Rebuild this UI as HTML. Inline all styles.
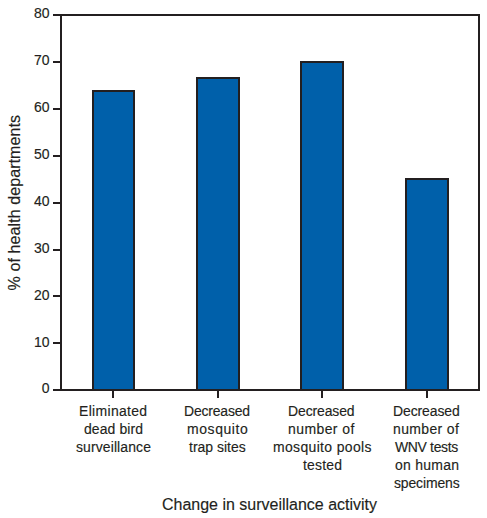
<!DOCTYPE html>
<html><head><meta charset="utf-8">
<style>
html,body{margin:0;padding:0;background:#fff;}
body{width:487px;height:518px;position:relative;overflow:hidden;font-family:"Liberation Sans",sans-serif;color:#231f20;-webkit-text-stroke:0.15px #231f20;}
svg{position:absolute;left:0;top:0;}
.t{position:absolute;font-size:15.2px;line-height:normal;white-space:nowrap;transform-origin:0 0;transform:scaleX(0.92);}
.tt{position:absolute;font-size:17.4px;line-height:normal;white-space:nowrap;}
.yl{position:absolute;font-size:14.0px;line-height:normal;width:49.5px;text-align:right;}
</style></head><body>
<svg width="487" height="518" viewBox="0 0 487 518" shape-rendering="crispEdges">
  <g fill="#0060aa">
    <rect x="92" y="90" width="43" height="300"/>
    <rect x="196" y="77" width="44" height="313"/>
    <rect x="300" y="61" width="44" height="329"/>
    <rect x="405" y="178" width="44" height="212"/>
  </g>
  <g fill="#231f20">
    <rect x="92" y="90" width="43" height="2"/><rect x="92" y="90" width="2" height="300"/><rect x="133" y="90" width="2" height="300"/>
    <rect x="196" y="77" width="44" height="2"/><rect x="196" y="77" width="2" height="313"/><rect x="238" y="77" width="2" height="313"/>
    <rect x="300" y="61" width="44" height="2"/><rect x="300" y="61" width="2" height="329"/><rect x="342" y="61" width="2" height="329"/>
    <rect x="405" y="178" width="44" height="2"/><rect x="405" y="178" width="2" height="212"/><rect x="447" y="178" width="2" height="212"/>
    <rect x="53" y="14" width="427" height="2"/>
    <rect x="53" y="389" width="427" height="2"/>
    <rect x="60" y="14" width="2" height="377"/>
    <rect x="478" y="14" width="2" height="377"/>
    <rect x="53" y="61" width="8" height="2"/><rect x="53" y="108" width="8" height="2"/><rect x="53" y="155" width="8" height="2"/><rect x="53" y="202" width="8" height="2"/><rect x="53" y="249" width="8" height="2"/><rect x="53" y="295" width="8" height="2"/><rect x="53" y="342" width="8" height="2"/>
    <rect x="112" y="391" width="2" height="7"/>
    <rect x="217" y="391" width="2" height="7"/>
    <rect x="321" y="391" width="2" height="7"/>
    <rect x="426" y="391" width="2" height="7"/>
  </g>
</svg>
<div class="yl" style="top:5.20px">80</div><div class="yl" style="top:52.08px">70</div><div class="yl" style="top:98.95px">60</div><div class="yl" style="top:145.82px">50</div><div class="yl" style="top:192.70px">40</div><div class="yl" style="top:239.57px">30</div><div class="yl" style="top:287.45px">20</div><div class="yl" style="top:334.32px">10</div><div class="yl" style="top:380.20px">0</div>
<div class="t" style="left:79.18px;top:401.90px;letter-spacing:0.350px">Eliminated</div><div class="t" style="left:83.80px;top:419.95px;letter-spacing:0.101px">dead bird</div><div class="t" style="left:76.40px;top:438.00px;letter-spacing:0.112px">surveillance</div><div class="t" style="left:184.38px;top:401.90px;letter-spacing:-0.209px">Decreased</div><div class="t" style="left:187.08px;top:419.95px;letter-spacing:0.627px">mosquito</div><div class="t" style="left:189.30px;top:438.00px;letter-spacing:-0.007px">trap sites</div><div class="t" style="left:288.48px;top:401.90px;letter-spacing:-0.128px">Decreased</div><div class="t" style="left:288.48px;top:419.95px;letter-spacing:0.461px">number of</div><div class="t" style="left:272.58px;top:438.00px;letter-spacing:0.373px">mosquito pools</div><div class="t" style="left:302.70px;top:456.05px;letter-spacing:0.228px">tested</div><div class="t" style="left:393.18px;top:401.90px;letter-spacing:-0.114px">Decreased</div><div class="t" style="left:393.18px;top:419.95px;letter-spacing:0.406px">number of</div><div class="t" style="left:395.00px;top:438.00px;letter-spacing:-0.375px">WNV tests</div><div class="t" style="left:395.00px;top:456.05px;letter-spacing:0.290px">on human</div><div class="t" style="left:393.50px;top:474.10px;letter-spacing:-0.158px">specimens</div>
<div class="tt" style="left:162.10px;top:493.60px;letter-spacing:-0.007px;transform-origin:0 0;transform:scaleX(0.92)">Change in surveillance activity</div>
<div class="tt" style="left:0;top:0;transform-origin:0 0;transform:translate(3.90px,290.40px) rotate(-90deg) scaleX(0.92);letter-spacing:0.098px">% of health departments</div>
</body></html>
